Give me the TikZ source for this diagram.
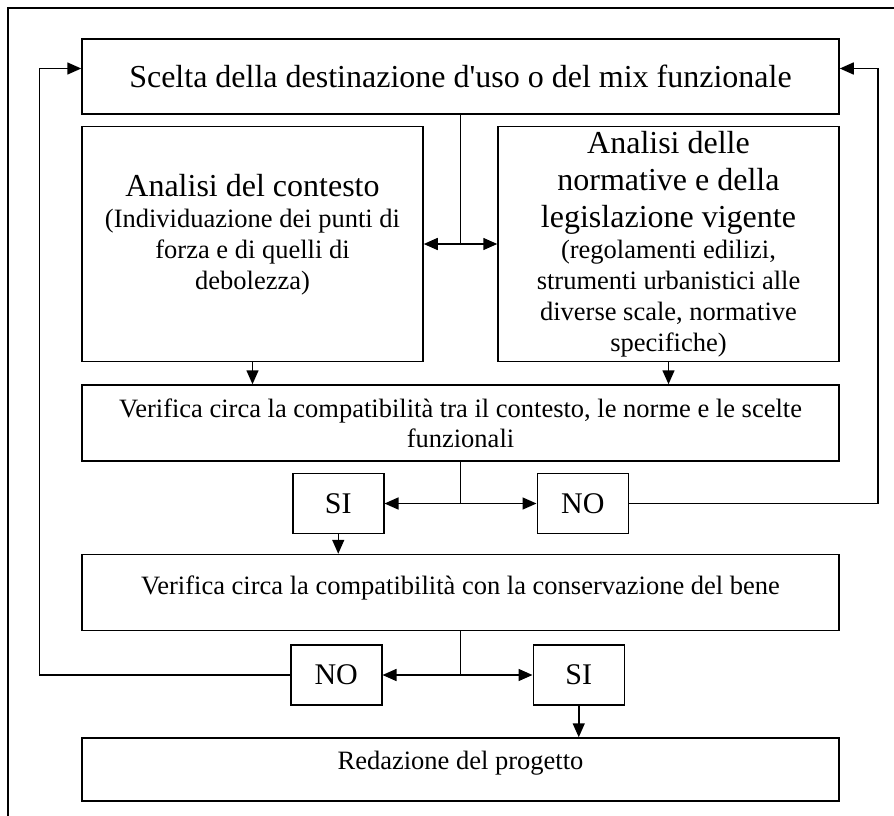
\documentclass[tikz,border=0pt]{standalone}
\usepackage{fontspec}
\setmainfont{Liberation Serif}
\usepackage{tikz}
\usetikzlibrary{arrows.meta, positioning, calc}
\tikzstyle{wide} = [rectangle, draw, line width=1.5pt, inner sep=0pt, minimum width=757pt, minimum height=76pt, text width=740pt, align=flush center, font=\fontsize{26.5}{30}\selectfont]
\tikzstyle{half} = [rectangle, draw, line width=1.5pt, inner sep=0pt, minimum width=341pt, minimum height=235pt, text width=335pt, align=flush center, font=\fontsize{32}{37}\selectfont]
\tikzstyle{answer} = [rectangle, draw, line width=1.5pt, inner sep=0pt, minimum width=91pt, minimum height=60pt, font=\fontsize{30}{34}\selectfont]
\tikzstyle{line} = [line width=1.5pt]
\tikzstyle{arrow} = [line width=1.5pt, -{Triangle[length=14pt,width=12pt]}]

\begin{document}
\begin{tikzpicture}[x=1pt, y=1pt]
  \useasboundingbox (0,0) rectangle (894,-816);
  % outer frame (only top and left sides fall inside the page)
  \draw[line] (8,-8) rectangle (930,-850);
  \node[wide, minimum height=75pt, font=\fontsize{32}{37}\selectfont] (scelta) at (460.5,-76.5) {Scelta della destinazione d\textquotesingle uso o del mix funzionale};
  \node[half, below right=11pt and 0pt of scelta.south west] (contesto) {Analisi del contesto\par
    \fontsize{26.5}{31}\selectfont (Individuazione dei punti di\\ forza e di quelli di\\ debolezza)\par\kern18pt};
  \node[half, below left=11pt and 0pt of scelta.south east] (normative) {Analisi delle\\ normative e della\\ legislazione vigente\par
    \fontsize{26.5}{31}\selectfont (regolamenti edilizi,\\ strumenti urbanistici alle\\ diverse scale, normative\\ specifiche)\par};
  \node[wide, below right=22pt and 0pt of contesto.south west] (verifica1) {Verifica circa la compatibilità tra il contesto, le norme e le scelte\\ funzionali\par};
  \node[answer, below left=11pt and 76pt of verifica1.south] (si1) {SI};
  \node[answer, below right=11pt and 76pt of verifica1.south] (no1) {NO};
  \node[wide, below right=92pt and 0pt of verifica1.south west] (verifica2) {Verifica circa la compatibilità con la conservazione del bene\par\kern9pt};
  \node[answer, below left=13pt and 78pt of verifica2.south] (no2) {NO};
  \node[answer, below right=13pt and 72pt of verifica2.south] (si2) {SI};
  \node[wide, minimum height=63pt, below=106pt of verifica2.south] (redazione) {Redazione del progetto\par\kern12pt};
  % connectors
  \coordinate (split1) at (scelta.south |- contesto.east);
  \draw[line] (scelta.south) -- (split1);
  \draw[arrow] (split1) -- (contesto.east);
  \draw[arrow] (split1) -- (normative.west);
  \draw[arrow] (contesto.south) -- (contesto.south |- verifica1.north);
  \draw[arrow] (normative.south) -- (normative.south |- verifica1.north);
  \coordinate (split2) at (verifica1.south |- si1.east);
  \draw[line] (verifica1.south) -- (split2);
  \draw[arrow] (split2) -- (si1.east);
  \draw[arrow] (split2) -- (no1.west);
  \coordinate (retR) at ([xshift=38pt, yshift=8pt]scelta.east);
  \draw[arrow] (no1.east) -| (retR) -- (retR -| scelta.east);
  \draw[arrow] (si1.south) -- (si1.south |- verifica2.north);
  \coordinate (split3) at (verifica2.south |- no2.east);
  \draw[line] (verifica2.south) -- (split3);
  \draw[arrow] (split3) -- (no2.east);
  \draw[arrow] (split3) -- (si2.west);
  \coordinate (retL) at ([xshift=-42pt, yshift=8pt]scelta.west);
  \draw[arrow] (no2.west) -| (retL) -- (retL -| scelta.west);
  \draw[arrow] (si2.south) -- (si2.south |- redazione.north);
\end{tikzpicture}
\end{document}
